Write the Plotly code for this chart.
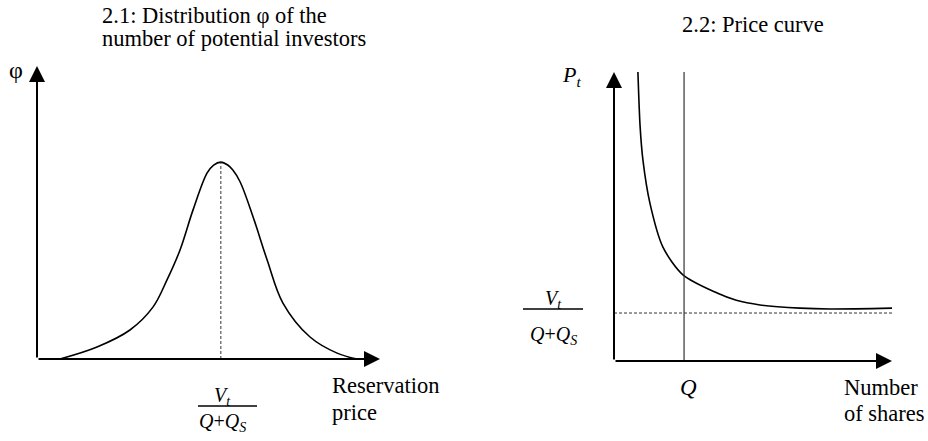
import plotly.graph_objects as go

# Panel 2.1: distribution of potential investors (conceptual units)
dist_x = [0.67, 1.75, 2.71, 3.38, 3.79, 4.17, 4.55, 4.96, 5.15, 5.36, 5.56, 5.71, 5.92, 6.30, 6.71, 7.17, 7.96, 8.75, 9.33]
dist_y = [0.0, 0.41, 0.99, 1.77, 2.70, 3.72, 5.09, 6.35, 6.62, 6.72, 6.62, 6.45, 6.05, 4.85, 3.38, 1.91, 0.75, 0.20, 0.0]
peak_x = 5.36
peak_y = 6.72

# Panel 2.2: price curve
price_x = [0.86, 0.94, 1.04, 1.29, 1.76, 2.48, 3.71, 4.40, 5.25, 6.69, 7.77, 10.0]
price_y = [10.0, 8.10, 6.96, 5.47, 3.94, 2.98, 2.35, 2.10, 1.94, 1.83, 1.80, 1.83]
q_x = 2.52
base_price = 1.66

W, H = 928, 441
FONT = "Liberation Serif"


def px(x):
    return x / W


def py(y):
    return 1 - y / H


fig = go.Figure()

fig.add_trace(go.Scatter(x=dist_x, y=dist_y, mode="lines", line=dict(color="black", width=1.6, shape="spline", smoothing=1.0),
                         xaxis="x", yaxis="y", hoverinfo="skip"))
fig.add_trace(go.Scatter(x=[peak_x, peak_x], y=[0, peak_y], mode="lines", line=dict(color="#333", width=1, dash="3px,2px"),
                         xaxis="x", yaxis="y", hoverinfo="skip"))

fig.add_trace(go.Scatter(x=price_x, y=price_y, mode="lines", line=dict(color="black", width=1.6, shape="spline", smoothing=0.8),
                         xaxis="x2", yaxis="y2", hoverinfo="skip"))
fig.add_trace(go.Scatter(x=[q_x, q_x], y=[0, 10], mode="lines", line=dict(color="#333", width=1.2),
                         xaxis="x2", yaxis="y2", hoverinfo="skip"))
fig.add_trace(go.Scatter(x=[0, 10], y=[base_price, base_price], mode="lines", line=dict(color="#333", width=1, dash="3px,2px"),
                         xaxis="x2", yaxis="y2", hoverinfo="skip"))

ax_common = dict(visible=False, range=[0, 10], fixedrange=True)
fig.update_layout(
    width=W, height=H,
    margin=dict(l=0, r=0, t=0, b=0),
    paper_bgcolor="white", plot_bgcolor="white",
    showlegend=False,
    xaxis=dict(ax_common, domain=[px(37), px(380)]),
    yaxis=dict(ax_common, domain=[py(359), py(66)]),
    xaxis2=dict(ax_common, domain=[px(614), px(892)], anchor="y2"),
    yaxis2=dict(ax_common, domain=[py(361), py(72)], anchor="x2"),
)

# axis arrows
arrow = dict(text="", showarrow=True, arrowhead=2, arrowwidth=2, arrowsize=1.6, arrowcolor="black", standoff=0, startstandoff=0)
for xr, yr in (("x", "y"), ("x2", "y2")):
    fig.add_annotation(arrow, x=10, y=0, ax=0, ay=0, xref=xr, yref=yr, axref=xr, ayref=yr)
    fig.add_annotation(arrow, x=0, y=10, ax=0, ay=0, xref=xr, yref=yr, axref=xr, ayref=yr)


def label(text, x, y, xanchor="center", size=22.5):
    fig.add_annotation(text=text, x=px(x), y=py(y), xref="paper", yref="paper", showarrow=False,
                       xanchor=xanchor, yanchor="middle", align="left",
                       font=dict(family=FONT, size=size, color="black"))


label("2.1: Distribution φ of the", 100, 16, xanchor="left")
label("number of potential investors", 100, 39, xanchor="left")
label("2.2: Price curve", 680, 25, xanchor="left")
label("φ", 16, 70, size=24)
label("<i>P<sub>t</sub></i>", 571, 76, size=22)
label("Reservation", 330, 385, xanchor="left")
label("price", 330, 412, xanchor="left")
label("Number", 842, 387, xanchor="left")
label("of shares", 842, 413, xanchor="left")
label("<i>Q</i>", 688, 387, size=23)

# fractions V_t / (Q + Q_S)
for cx, ytop, ybar, ybot, x0, x1 in ((222, 396, 406, 422, 198, 257), (553, 299, 309, 335, 523, 583)):
    label("<i>V<sub>t</sub></i>", cx, ytop, size=20)
    label("<i>Q</i>+<i>Q<sub>S</sub></i>", cx, ybot, size=20)
    fig.add_shape(type="line", xref="paper", yref="paper", x0=px(x0), x1=px(x1), y0=py(ybar), y1=py(ybar),
                  line=dict(color="black", width=1.3))

fig.write_html("out.html", config={"displayModeBar": False},
               post_script="document.body.style.margin='0';")
